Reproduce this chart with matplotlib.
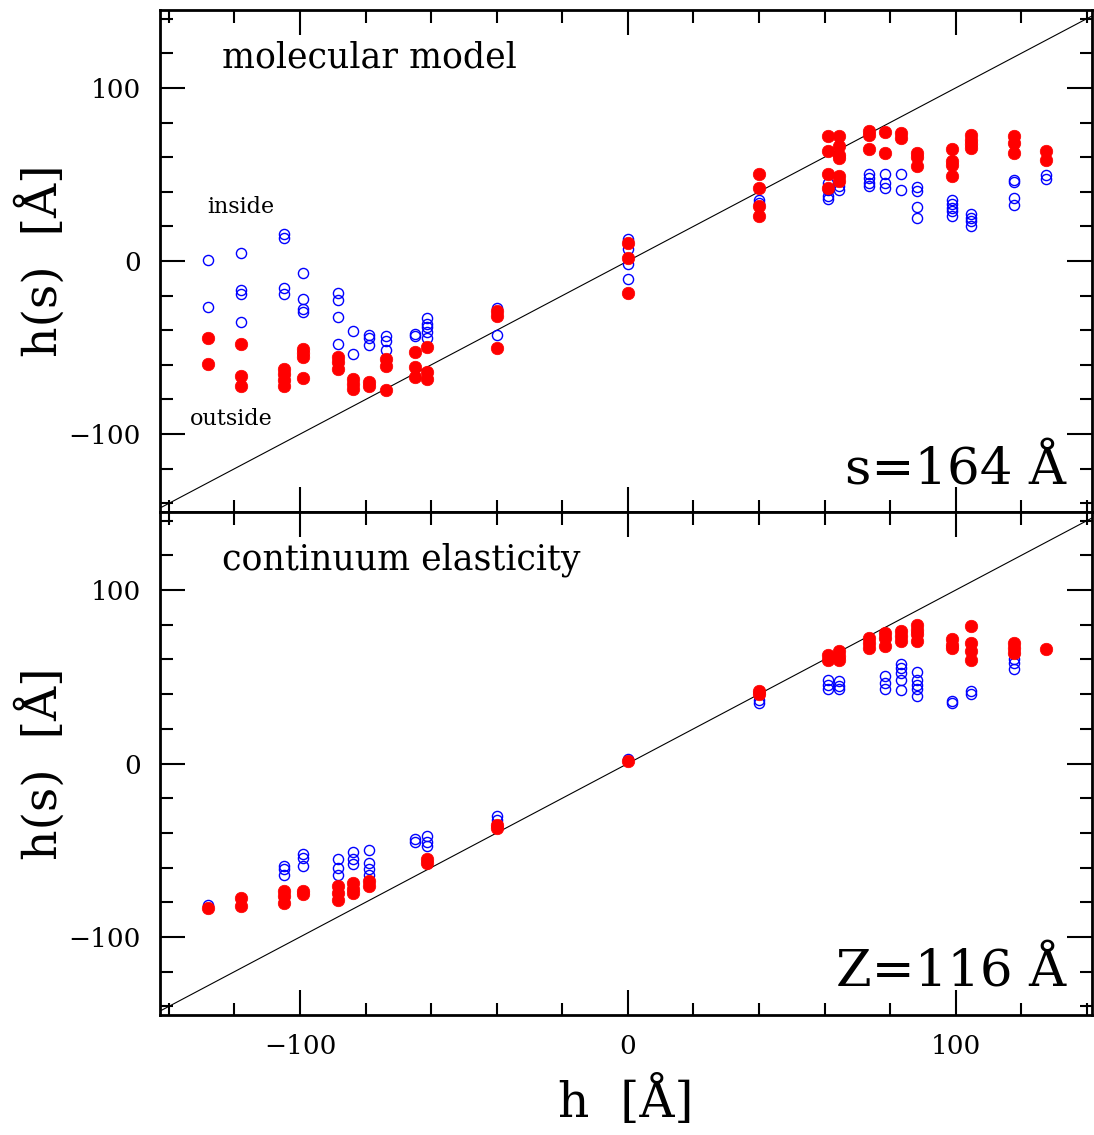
import numpy as np
import matplotlib
matplotlib.use("Agg")
import matplotlib.pyplot as plt
from matplotlib.ticker import MultipleLocator

plt.rcParams['font.family'] = ['DejaVu Serif']
plt.rcParams['axes.unicode_minus'] = True

# h positions (Angstrom) shared by both panels
h_cols = [-128, -118, -105, -99, -88.5, -83.7, -79, -73.8, -65, -61.4, -40, 0,
          40, 61, 64.5, 73.6, 78.4, 83.2, 88.3, 99, 104.6, 117.7, 127.4]

# molecular model: inside leaflet (open) and outside leaflet (filled)
mol_inside = [
    [0.6, -26.5], [4.4, -16.5, -19.2, -35], [15.4, 13.4, -15.4, -19.2],
    [-6.9, -21.7, -27.9, -29.4], [-18.3, -22.5, -32.3, -48.2], [-40.5, -53.6],
    [-42.8, -44.6, -48.6], [-43.2, -46.1, -51.5], [-42.3, -43.2],
    [-32.7, -36.5, -38.4, -41.3, -44.2], [-26.9, -42.7], [12.5, 6.7, -1.9, -10.2],
    [35.5, 33.6], [45.1, 41.3, 37.5, 35.6], [43.2, 41.3], [50, 48, 45.1, 43.2],
    [50.3, 45.1, 42.2], [50.3, 40.9], [42.7, 40.7, 31.1, 25],
    [35, 32.7, 30.7, 28.8, 25.8], [26.9, 25, 23.1, 20.2], [46.5, 45.5, 36.5, 32.3],
    [49.6, 47.1],
]
mol_outside = [
    [-44.6, -59.7], [-48, -66.3, -72.4], [-62.4, -65.3, -68.6, -72],
    [-50.9, -53, -55.7, -67.8], [-55.7, -58.6, -62.4], [-68.2, -71.1, -74],
    [-70.1, -72], [-56.7, -60.5, -74.5], [-52.8, -61.5, -67.2], [-49.4, -64.4, -68.2],
    [-28.8, -31.7, -50], [10.6, 1.9, -18.3], [50, 41.9, 31.7, 25.9],
    [72.4, 63.4, 50, 41.9], [72.4, 66.3, 61.5, 59.5, 49, 46.1], [74.9, 73, 64.9],
    [74.4, 62.1], [74, 71.1], [62.1, 59.9, 55.1], [64.9, 57.6, 55.7, 49],
    [73, 70.1, 67.3, 65.3], [72, 68.2, 62.4], [63.8, 58.6],
]

# continuum elasticity
ce_inside = [
    [-81.8], [], [-59.2, -61.1, -64], [-51.9, -54.4, -59.2], [-54.9, -60.1, -64],
    [-50.9, -55.3, -57.8], [-49.8, -57.2, -61.1, -64], [], [-43.8, -45.1],
    [-41.9, -45, -47.5], [-30.4, -32.3], [2.5], [36.9, 35], [48.4, 45.5, 42.7],
    [47.4, 44.6, 43], [], [50.7, 46.5, 43], [57.1, 55.2, 52.3, 48.4, 42.3],
    [52.6, 48.4, 45.5, 42.7, 39.2], [35.9, 35], [41.7, 39.8], [60.3, 58, 54.6], [],
]
ce_outside = [
    [-83.2], [-77.4, -82.2], [-73.6, -76.5, -80.3], [-73.6, -75.5],
    [-70.7, -74.5, -78.4], [-68.8, -72.6, -74.5], [-67.8, -70.7], [], [],
    [-55.3, -57.2], [-35.2, -37.1], [1.5], [41.7, 39.8], [62.8, 59.9],
    [64.7, 61.8, 59.9], [72.4, 69.6, 66.7], [75.3, 72.4, 67.6], [76.3, 73.4, 70.5],
    [80.1, 77.2, 74.4, 70.5], [71.5, 68.6, 66.7], [79.1, 69.6, 64.7, 59.9],
    [69.6, 66.7, 63.8], [66.1],
]


def flatten(cols):
    xs, ys = [], []
    for h, vals in zip(h_cols, cols):
        for v in vals:
            xs.append(h)
            ys.append(v)
    return xs, ys


fig = plt.figure(figsize=(10.94, 11.35), dpi=100)
left, right = 0.1463, 0.998
bottom, mid, top = 0.1057, 0.5489, 0.9912
ax1 = fig.add_axes([left, mid, right - left, top - mid])
ax2 = fig.add_axes([left, bottom, right - left, mid - bottom])

xlim = (-142.7, 141.5)
ylim = (-145, 145)

panels = [
    (ax1, mol_inside, mol_outside, 'molecular model', 's=164 Å'),
    (ax2, ce_inside, ce_outside, 'continuum elasticity', 'Z=116 Å'),
]

for ax, inside, outside, title, tag in panels:
    ax.plot([-150, 150], [-150, 150], color='black', lw=0.8, zorder=1)
    xi, yi = flatten(inside)
    xo, yo = flatten(outside)
    ax.plot(xi, yi, 'o', ms=7.3, mfc='none', mec='#0000ff', mew=1.0, zorder=2)
    ax.plot(xo, yo, 'o', ms=9.0, mfc='#ff0000', mec='#ff0000', mew=0.5, zorder=3)

    ax.set_xlim(*xlim)
    ax.set_ylim(*ylim)
    ax.xaxis.set_major_locator(MultipleLocator(100))
    ax.xaxis.set_minor_locator(MultipleLocator(20))
    ax.yaxis.set_major_locator(MultipleLocator(100))
    ax.yaxis.set_minor_locator(MultipleLocator(20))
    ax.tick_params(which='both', direction='in', top=True, right=True, width=1.5)
    ax.tick_params(which='major', length=18, labelsize=19, pad=14)
    ax.tick_params(which='minor', length=9)
    for sp in ax.spines.values():
        sp.set_linewidth(2)

    ax.set_ylabel('h(s)  [Å]', fontsize=34)
    ax.yaxis.set_label_coords(-0.1, 0.5)
    ax.text(0.067, 0.905, title, transform=ax.transAxes, fontsize=25,
            ha='left', va='center')
    ax.text(0.972, 0.085, tag, transform=ax.transAxes, fontsize=37,
            ha='right', va='center')

ax1.tick_params(labelbottom=False)
ax1.text(-118, 31, 'inside', fontsize=16, ha='center', va='center')
ax1.text(-121, -91.5, 'outside', fontsize=16, ha='center', va='center')

ax2.set_xlabel('h  [Å]', fontsize=35, labelpad=12)

fig.savefig('out.png', dpi=100)
